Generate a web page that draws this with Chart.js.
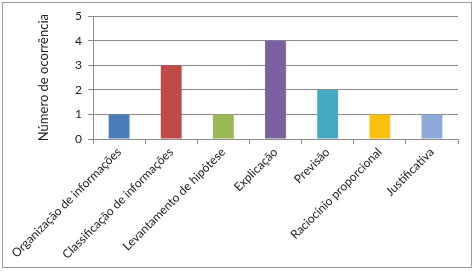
<!DOCTYPE html>
<html><head><meta charset="utf-8">
<script src="https://cdn.jsdelivr.net/npm/chart.js@4"></script>
<style>
html,body{margin:0;padding:0;background:#fff;}
#box{position:absolute;left:2px;top:2px;width:468px;height:264px;border:1px solid #9a9a9a;}
canvas{display:block;}
</style></head><body>
<div id="box"><canvas id="c" width="468" height="264"></canvas></div>
<script>
const categories = ["Organização de informações","Classificação de informações","Levantamento de hipótese","Explicação","Previsão","Raciocínio proporcional","Justificativa"];
const values = [1,3,1,4,2,1,1];
const barColors = ["#4A7EBB","#BE4B48","#98B954","#7D60A0","#46AAC5","#F9C00F","#8EA9D8"];
const yTicks = [0,1,2,3,4,5];
const yTitle = "Número de ocorrência";

new Chart(document.getElementById('c'), {
  type: 'bar',
  data: { labels: categories, datasets: [{ data: values, backgroundColor: barColors, categoryPercentage: 1, barPercentage: 0.4 }] },
  options: {
    responsive: false, animation: false,
    layout: { padding: { left: 33, top: 8, right: 13, bottom: 0 } },
    plugins: { legend: { display: false }, tooltip: { enabled: false } },
    scales: {
      x: {
        grid: { offset: true, drawOnChartArea: false, drawTicks: true, tickLength: 5, color: '#8c8c8c' },
        border: { color: '#8c8c8c' },
        ticks: { minRotation: 45, maxRotation: 45, autoSkip: false, color: '#222', font: { family: 'Lato', size: 12 }, padding: 1 },
        afterFit: s => { s.height = 128; }
      },
      y: {
        min: 0, max: 5,
        afterBuildTicks: s => { s.ticks = yTicks.map(v => ({ value: v })); },
        grid: { color: '#8c8c8c', tickLength: 5 },
        border: { color: '#8c8c8c' },
        ticks: { color: '#222', font: { family: 'Lato', size: 12 }, padding: 6 },
        title: { display: true, text: yTitle, color: '#222', font: { family: 'Lato', size: 13 }, padding: 0 },
        afterFit: s => { s.width = 57; }
      }
    }
  }
});
</script>
</body></html>
